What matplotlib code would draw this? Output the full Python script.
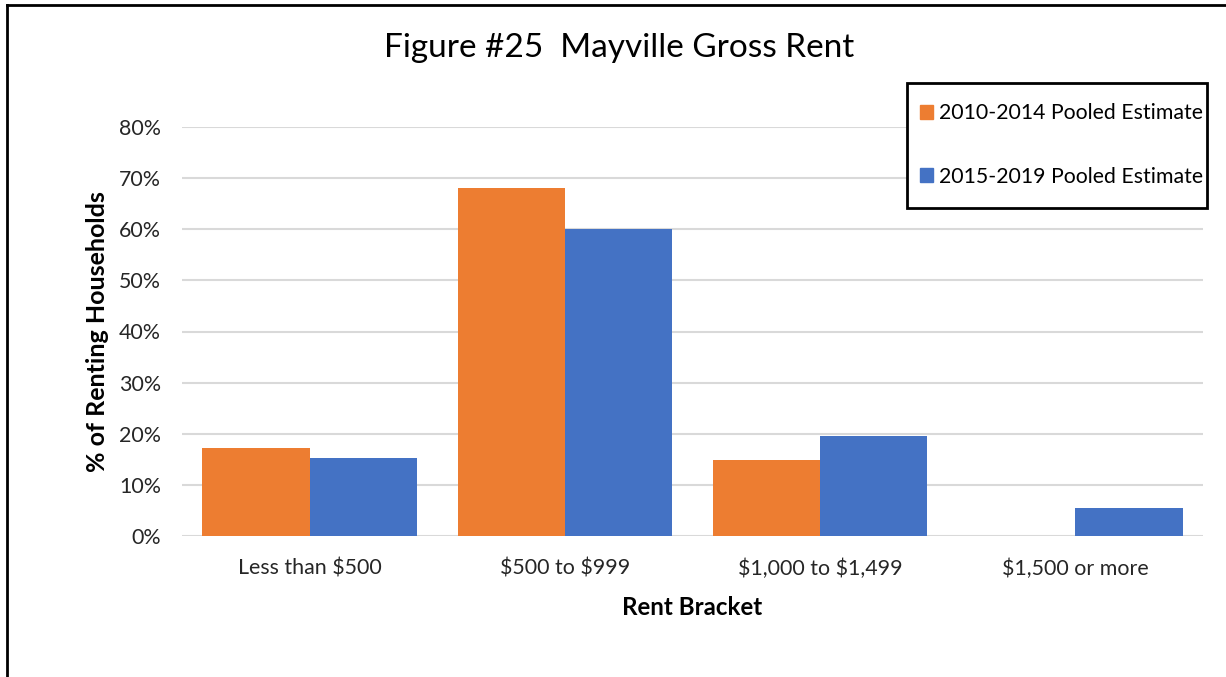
import matplotlib
matplotlib.use("Agg")
import matplotlib.pyplot as plt
from matplotlib.lines import Line2D
from matplotlib.patches import Patch, Rectangle
import numpy as np

categories = ["Less than $500", "$500 to $999", "$1,000 to $1,499", "$1,500 or more"]
series_names = ["2010-2014 Pooled Estimate", "2015-2019 Pooled Estimate"]
est_2010_2014 = [17.2, 68.1, 14.9, 0.0]
est_2015_2019 = [15.3, 60.1, 19.6, 5.5]
yticks = [0, 10, 20, 30, 40, 50, 60, 70, 80]

plt.rcParams['font.family'] = ['Lato', 'DejaVu Sans']
plt.rcParams['text.parse_math'] = False

W, H = 1226, 677
fig = plt.figure(figsize=(W/100, H/100), dpi=100)
ax = fig.add_axes([182/W, 1-536/H, (1203-182)/W, (536-127)/H])

x = np.arange(len(categories))
w = 0.42
ax.bar(x - w/2, est_2010_2014, width=w, color="#ED7D31", zorder=3)
ax.bar(x + w/2, est_2015_2019, width=w, color="#4472C4", zorder=3)

ax.set_xlim(-0.5, len(categories) - 0.5)
ax.set_ylim(0, 80)
ax.set_yticks(yticks)
ax.set_yticklabels([f"{v}%" for v in yticks], fontsize=15.4, color="#262626")
ax.set_xticks(x)
ax.set_xticklabels(categories, fontsize=15.4, color="#262626")
ax.tick_params(axis='both', length=0)
ax.tick_params(axis='y', pad=15)
ax.tick_params(axis='x', pad=16)
ax.grid(axis='y', color="#D9D9D9", linewidth=1.5, zorder=0)
for s in ax.spines.values():
    s.set_visible(False)

ax.set_ylabel("% of Renting Households", fontsize=18, fontweight='bold', labelpad=7)
ax.set_xlabel("Rent Bracket", fontsize=17.4, fontweight='bold', labelpad=12.5)

fig.text(619/W, 1-48/H, "Figure #25  Mayville Gross Rent", fontsize=24,
         ha='center', va='center')

# legend box
fig.add_artist(Rectangle((907/W, 1-208/H), 300/W, 125/H, transform=fig.transFigure,
                         facecolor='white', edgecolor='black', linewidth=2, zorder=4))
handles = [Patch(color="#ED7D31"), Patch(color="#4472C4")]
leg = fig.legend(handles, series_names, loc='center left',
                 bbox_to_anchor=(920/W, 1-145/H), fontsize=15.3,
                 frameon=False, handlelength=0.6, handleheight=0.6,
                 handletextpad=0.3, labelspacing=2.04, borderpad=0, borderaxespad=0)
leg.set_zorder(5)

fig.add_artist(Line2D([7/W, 7/W], [0, 1-5/H], color='black', linewidth=2))
fig.add_artist(Line2D([7/W, 1], [1-5/H, 1-5/H], color='black', linewidth=2))

fig.savefig("out.png", dpi=100)
